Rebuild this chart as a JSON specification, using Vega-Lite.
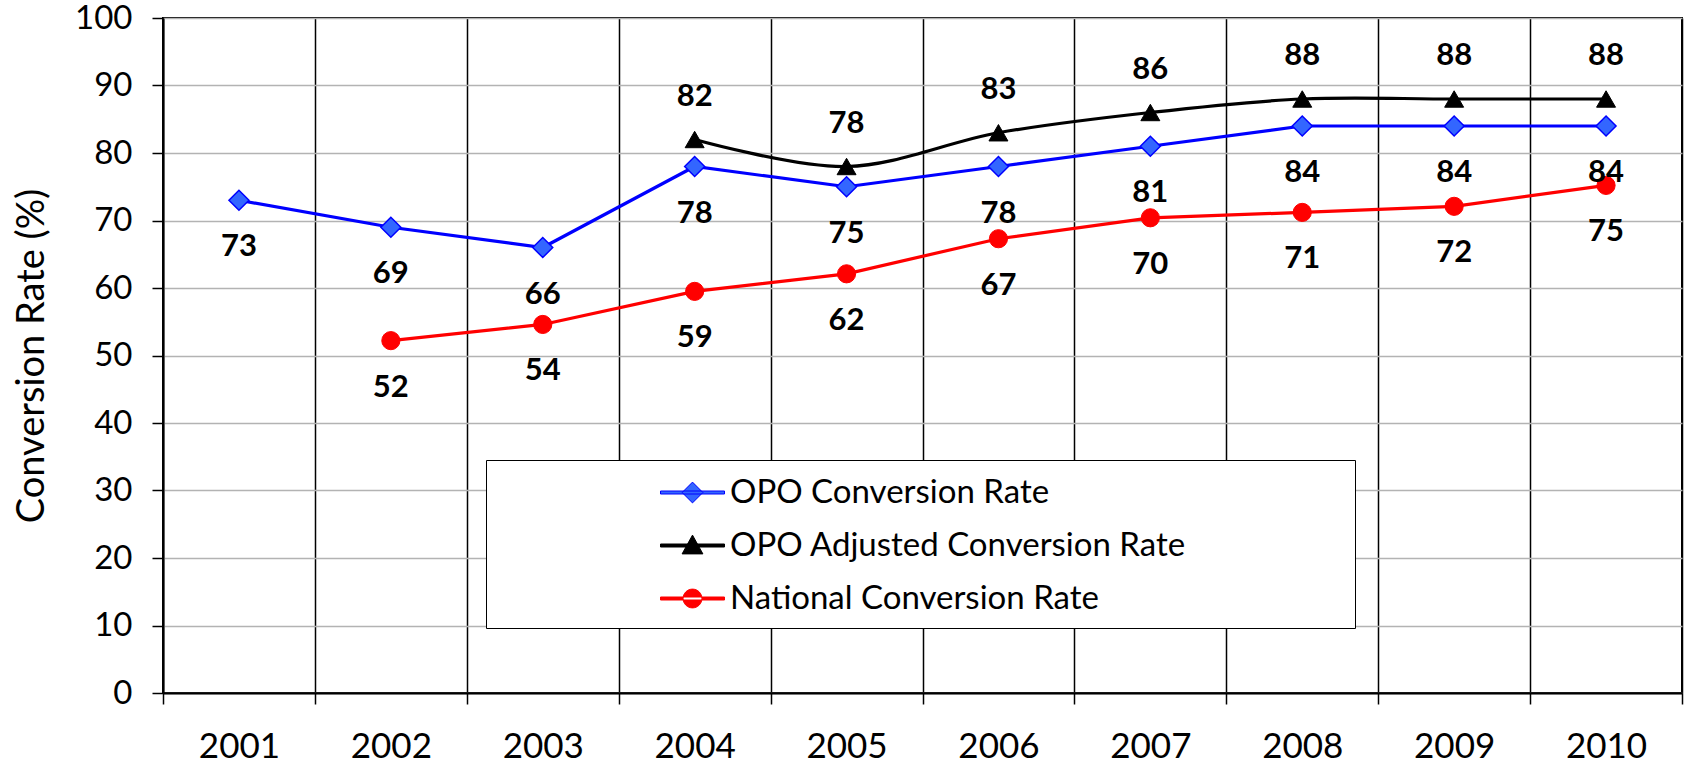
{
  "$schema": "https://vega.github.io/schema/vega-lite/v6.json",
  "width": 1519,
  "height": 675,
  "autosize": {"type": "none"},
  "padding": {"left": 163, "top": 18, "right": 3, "bottom": 72},
  "background": "white",
  "config": {
    "font": "Lato",
    "view": {"stroke": "black", "strokeWidth": 2},
    "axis": {
      "labelFont": "Lato",
      "labelFontSize": 33,
      "labelColor": "black",
      "titleFont": "Lato",
      "titleFontWeight": "normal",
      "titleColor": "black",
      "domainColor": "black",
      "tickColor": "black",
      "domainWidth": 2,
      "tickWidth": 1.5
    }
  },
  "data": {
    "values": [
      {"year": "2001", "series": "OPO Conversion Rate", "rate": 73, "label": "73"},
      {"year": "2002", "series": "OPO Conversion Rate", "rate": 69, "label": "69"},
      {"year": "2003", "series": "OPO Conversion Rate", "rate": 66, "label": "66"},
      {"year": "2004", "series": "OPO Conversion Rate", "rate": 78, "label": "78"},
      {"year": "2005", "series": "OPO Conversion Rate", "rate": 75, "label": "75"},
      {"year": "2006", "series": "OPO Conversion Rate", "rate": 78, "label": "78"},
      {"year": "2007", "series": "OPO Conversion Rate", "rate": 81, "label": "81"},
      {"year": "2008", "series": "OPO Conversion Rate", "rate": 84, "label": "84"},
      {"year": "2009", "series": "OPO Conversion Rate", "rate": 84, "label": "84"},
      {"year": "2010", "series": "OPO Conversion Rate", "rate": 84, "label": "84"},
      {"year": "2004", "series": "OPO Adjusted Conversion Rate", "rate": 82, "label": "82"},
      {"year": "2005", "series": "OPO Adjusted Conversion Rate", "rate": 78, "label": "78"},
      {"year": "2006", "series": "OPO Adjusted Conversion Rate", "rate": 83, "label": "83"},
      {"year": "2007", "series": "OPO Adjusted Conversion Rate", "rate": 86, "label": "86"},
      {"year": "2008", "series": "OPO Adjusted Conversion Rate", "rate": 88, "label": "88"},
      {"year": "2009", "series": "OPO Adjusted Conversion Rate", "rate": 88, "label": "88"},
      {"year": "2010", "series": "OPO Adjusted Conversion Rate", "rate": 88, "label": "88"},
      {"year": "2002", "series": "National Conversion Rate", "rate": 52.2, "label": "52"},
      {"year": "2003", "series": "National Conversion Rate", "rate": 54.6, "label": "54"},
      {"year": "2004", "series": "National Conversion Rate", "rate": 59.5, "label": "59"},
      {"year": "2005", "series": "National Conversion Rate", "rate": 62.1, "label": "62"},
      {"year": "2006", "series": "National Conversion Rate", "rate": 67.3, "label": "67"},
      {"year": "2007", "series": "National Conversion Rate", "rate": 70.4, "label": "70"},
      {"year": "2008", "series": "National Conversion Rate", "rate": 71.2, "label": "71"},
      {"year": "2009", "series": "National Conversion Rate", "rate": 72.1, "label": "72"},
      {"year": "2010", "series": "National Conversion Rate", "rate": 75.2, "label": "75"}
    ]
  },
  "encoding": {
    "x": {
      "field": "year",
      "type": "ordinal",
      "scale": {"type": "band", "paddingInner": 0, "paddingOuter": 0},
      "axis": {
        "title": null,
        "labelAngle": 0,
        "labelFontSize": 35,
        "tickBand": "extent",
        "grid": true,
        "gridColor": "black",
        "gridWidth": 1.5,
        "gridOpacity": 1,
        "tickSize": 11,
        "labelPadding": 25
      }
    },
    "y": {
      "field": "rate",
      "type": "quantitative",
      "scale": {"domain": [0, 100], "nice": false, "zero": true},
      "axis": {
        "title": "Conversion Rate (%)",
        "titleFontSize": 38,
        "values": [0, 10, 20, 30, 40, 50, 60, 70, 80, 90, 100],
        "grid": true,
        "gridColor": "#b3b3b3",
        "gridWidth": 1.5,
        "gridOpacity": 1,
        "tickSize": 11,
        "labelPadding": 20,
        "titlePadding": 23
      }
    }
  },
  "layer": [
    {
      "transform": [{"filter": "datum.series !== 'OPO Adjusted Conversion Rate'"}],
      "mark": {"type": "line", "strokeWidth": 3.2},
      "encoding": {
        "detail": {"field": "series", "type": "nominal"},
        "color": {
          "condition": {"test": "datum.series === 'OPO Conversion Rate'", "value": "#0000ff"},
          "value": "#ff0000"
        }
      }
    },
    {
      "transform": [{"filter": "datum.series === 'OPO Adjusted Conversion Rate'"}],
      "mark": {"type": "line", "strokeWidth": 3.2, "interpolate": "catmull-rom", "color": "black"},
      "encoding": {}
    },
    {
      "transform": [{"filter": "datum.series === 'OPO Conversion Rate'"}],
      "mark": {"type": "point", "shape": "diamond", "filled": true, "fill": "#3366ff", "stroke": "#0000ff", "size": 400, "strokeWidth": 1.5, "opacity": 1},
      "encoding": {}
    },
    {
      "transform": [{"filter": "datum.series === 'OPO Adjusted Conversion Rate'"}],
      "mark": {"type": "point", "shape": "triangle-up", "filled": true, "fill": "#000000", "stroke": "#000000", "size": 360, "strokeWidth": 1, "opacity": 1},
      "encoding": {}
    },
    {
      "transform": [{"filter": "datum.series === 'National Conversion Rate'"}],
      "mark": {"type": "point", "shape": "circle", "filled": true, "fill": "#ff0000", "stroke": "#ff0000", "size": 330, "strokeWidth": 1, "opacity": 1},
      "encoding": {}
    },
    {
      "transform": [{"filter": "datum.rate > 1000"}],
      "mark": {"type": "point", "filled": true, "strokeWidth": 1, "opacity": 1},
      "encoding": {
        "shape": {
          "field": "series",
          "type": "nominal",
          "scale": {
            "domain": ["OPO Conversion Rate", "OPO Adjusted Conversion Rate", "National Conversion Rate"],
            "range": [
              "M-1.6,-0.075H1.6V0.075H-1.6Z M0,-0.52L0.52,0L0,0.52L-0.52,0Z M32.4,0",
              "M-1.6,-0.075H1.6V0.075H-1.6Z M0,-0.52L0.52,0.42L-0.52,0.42Z M32.4,0",
              "M-1.6,-0.075H1.6V0.075H-1.6Z M-0.47,0A0.47,0.47 0 1,0 0.47,0A0.47,0.47 0 1,0 -0.47,0Z M32.4,0"
            ]
          },
          "legend": {
            "title": null,
            "orient": "none",
            "legendX": 323,
            "legendY": 442,
            "padding": 12,
            "fillColor": "white",
            "strokeColor": "black",
            "labelFont": "Lato",
            "labelFontSize": 33,
            "labelColor": "black",
            "labelLimit": 2000,
            "symbolSize": 1600,
            "symbolStrokeWidth": 1,
            "symbolOpacity": 1,
            "symbolOffset": 174,
            "labelOffset": 17,
            "rowPadding": 15
          }
        },
        "fill": {
          "field": "series",
          "type": "nominal",
          "scale": {
            "domain": ["OPO Conversion Rate", "OPO Adjusted Conversion Rate", "National Conversion Rate"],
            "range": ["#3366ff", "#000000", "#ff0000"]
          }
        },
        "stroke": {
          "field": "series",
          "type": "nominal",
          "scale": {
            "domain": ["OPO Conversion Rate", "OPO Adjusted Conversion Rate", "National Conversion Rate"],
            "range": ["#0000ff", "#000000", "#ff0000"]
          }
        }
      }
    },
    {
      "transform": [{"filter": "datum.series !== 'OPO Adjusted Conversion Rate'"}],
      "mark": {"type": "text", "font": "Lato", "fontSize": 31, "fontWeight": "bold", "color": "black", "baseline": "middle", "dy": 47},
      "encoding": {"text": {"field": "label"}}
    },
    {
      "transform": [{"filter": "datum.series === 'OPO Adjusted Conversion Rate'"}],
      "mark": {"type": "text", "font": "Lato", "fontSize": 31, "fontWeight": "bold", "color": "black", "baseline": "middle", "dy": -43},
      "encoding": {"text": {"field": "label"}}
    }
  ]
}
